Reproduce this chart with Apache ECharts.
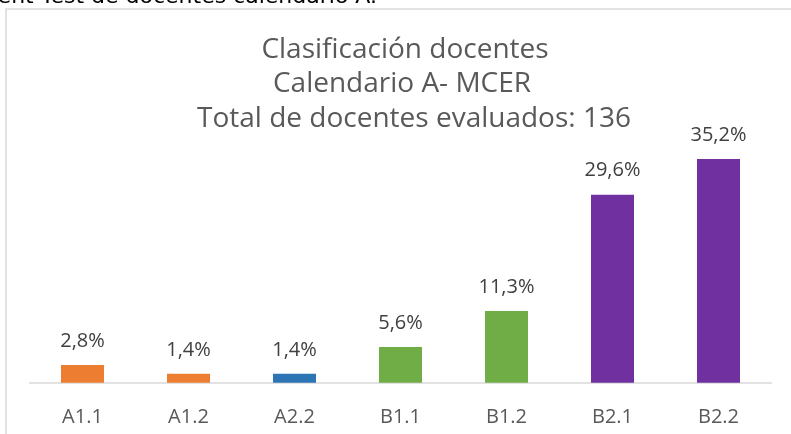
<!DOCTYPE html>
<html>
<head>
<meta charset="utf-8">
<script src="https://cdn.jsdelivr.net/npm/echarts@6/dist/echarts.min.js"></script>
<style>
  html, body { margin: 0; padding: 0; background: #fff; }
  #main { width: 791px; height: 434px; }
</style>
</head>
<body>
<div id="main"></div>
<script>
let categories = ['A1.1', 'A1.2', 'A2.2', 'B1.1', 'B1.2', 'B2.1', 'B2.2'];
let values = [2.8, 1.4, 1.4, 5.6, 11.3, 29.6, 35.2];
let barColors = ['#ED7D31', '#ED7D31', '#2E75B6', '#70AD47', '#70AD47', '#7030A0', '#7030A0'];
let titleLines = ['Clasificación docentes', 'Calendario A- MCER', 'Total de docentes evaluados: 136'];

let chart = echarts.init(document.getElementById('main'));
let font = '"Open Sans", sans-serif';
let titleStyle = { fontFamily: font, fontSize: 28, fontWeight: 'normal', color: '#595959' };

let option = {
    animation: false,
    title: [
        { text: titleLines[0], left: 400, top: 31, textAlign: 'center', textStyle: titleStyle },
        { text: titleLines[1], left: 397, top: 65, textAlign: 'center', textStyle: titleStyle },
        { text: titleLines[2], left: 409, top: 100, textAlign: 'center', textStyle: titleStyle }
    ],
    graphic: [
        {
            type: 'rect',
            shape: { x: 6, y: 9, width: 800, height: 440 },
            style: { fill: 'none', stroke: '#d9d9d9', lineWidth: 1.5 }
        },
        {
            // caption of the document, cut off at the top edge
            type: 'text',
            style: {
                text: 'ent Test de docentes calendario A.',
                x: 377, y: 8,
                align: 'right', verticalAlign: 'bottom',
                font: '22px "DejaVu Sans", sans-serif',
                fill: '#000'
            }
        }
    ],
    grid: { left: 29.5, right: 19.5, top: 100, bottom: 51.3, containLabel: false },
    xAxis: {
        type: 'category',
        data: categories,
        axisLine: { lineStyle: { color: '#d9d9d9', width: 1.5 } },
        axisTick: { show: false },
        axisLabel: { fontFamily: font, fontSize: 20, color: '#595959', margin: 25 }
    },
    yAxis: {
        type: 'value',
        min: 0,
        max: 44.5,
        show: false,
        splitLine: { show: false }
    },
    series: [
        {
            type: 'bar',
            barWidth: 43,
            data: values.map(function (v, i) {
                return { value: v, itemStyle: { color: barColors[i] } };
            }),
            label: {
                show: true,
                position: 'top',
                distance: 14,
                fontFamily: font,
                fontSize: 20,
                color: '#404040',
                formatter: function (p) {
                    return p.value.toFixed(1).replace('.', ',') + '%';
                }
            }
        }
    ]
};
chart.setOption(option);
</script>
</body>
</html>
